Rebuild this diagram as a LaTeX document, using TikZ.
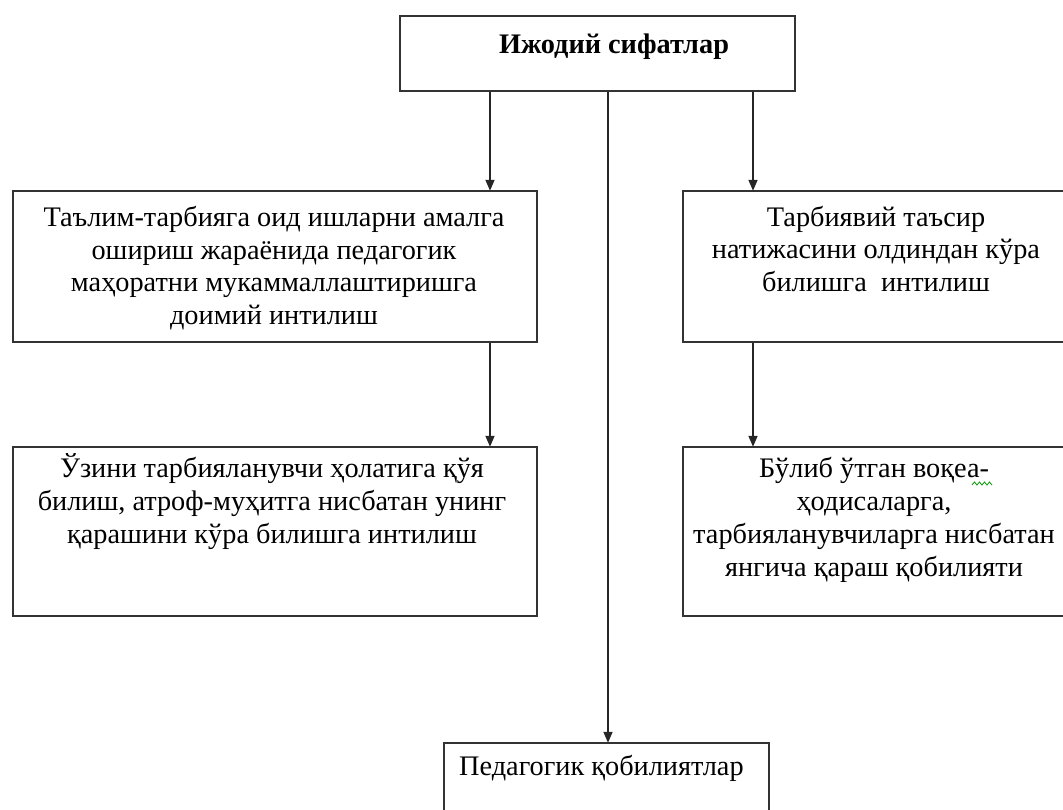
\documentclass[tikz,border=0pt]{standalone}
\usepackage{fontspec}
\setmainfont{Liberation Serif}
\newfontfamily\timesf{Liberation Serif}
\usetikzlibrary{arrows.meta}
\tikzset{
  boxshape/.style={draw=black!80, line width=1.6pt, rectangle, inner sep=0pt, anchor=north west},
  txt/.style={align=center, inner sep=0pt, anchor=base, font=\timesf\fontsize{28.3}{33}\selectfont},
  arr/.style={draw=black!85, line width=1.6pt, -{Triangle[length=11pt,width=9pt]}, shorten >=-0.8pt},
}
\begin{document}
\begin{tikzpicture}[x=1pt,y=-1pt]
\useasboundingbox (0,0) rectangle (1063,810);
% boxes
\node[boxshape, minimum width=395pt, minimum height=75pt] (top) at (399,15) {};
\node[boxshape, minimum width=524pt, minimum height=151pt] (b1) at (12,190) {};
\node[boxshape, minimum width=393pt, minimum height=151pt] (b2) at (682,190) {};
\node[boxshape, minimum width=524pt, minimum height=169pt] (b3) at (12,446) {};
\node[boxshape, minimum width=393pt, minimum height=169pt] (b4) at (682,446) {};
\node[boxshape, minimum width=325pt, minimum height=90pt] (b5) at (443,742) {};
% texts (anchor = baseline of last line)
\node[txt, font=\timesf\fontsize{28.3}{33}\selectfont\bfseries] (ttop) at (614,54) {Ижодий сифатлар};
\node[txt] (t1) at (274,325) {Таълим-тарбияга оид ишларни амалга\\ ошириш жараёнида педагогик\\ маҳоратни мукаммаллаштиришга\\ доимий интилиш};
\node[txt] (t2) at (876,292) {Тарбиявий таъсир\\ натижасини олдиндан кўра\\ билишга~ интилиш};
\node[txt] (t3) at (272,543) {Ўзини тарбияланувчи ҳолатига қўя\\ билиш, атроф-муҳитга нисбатан унинг\\ қарашини кўра билишга интилиш};
\node[txt] (t4) at (874,576) {Бўлиб ўтган воқеа-\\ ҳодисаларга,\\ тарбияланувчиларга нисбатан\\ янгича қараш қобилияти};
\node[txt, anchor=base west] (t5) at (459,775) {Педагогик қобилиятлар};
% arrow columns
\coordinate (cl) at (490,0);
\coordinate (cm) at (608,0);
\coordinate (cr) at (753,0);
% connectors
\draw[arr] (top.south -| cl) -- (b1.north -| cl);
\draw[arr] (top.south -| cr) -- (b2.north -| cr);
\draw[arr] (top.south -| cm) -- (b5.north -| cm);
\draw[arr] (b1.south -| cl) -- (b3.north -| cl);
\draw[arr] (b2.south -| cr) -- (b4.north -| cr);
% spell-check squiggle
\draw[green!60!black, line width=0.8pt] (972,485) -- (974.5,482) -- (977,485) -- (979.5,482) -- (982,485) -- (984.5,482) -- (987,485) -- (989.5,482) -- (992,485);
\end{tikzpicture}
\end{document}
